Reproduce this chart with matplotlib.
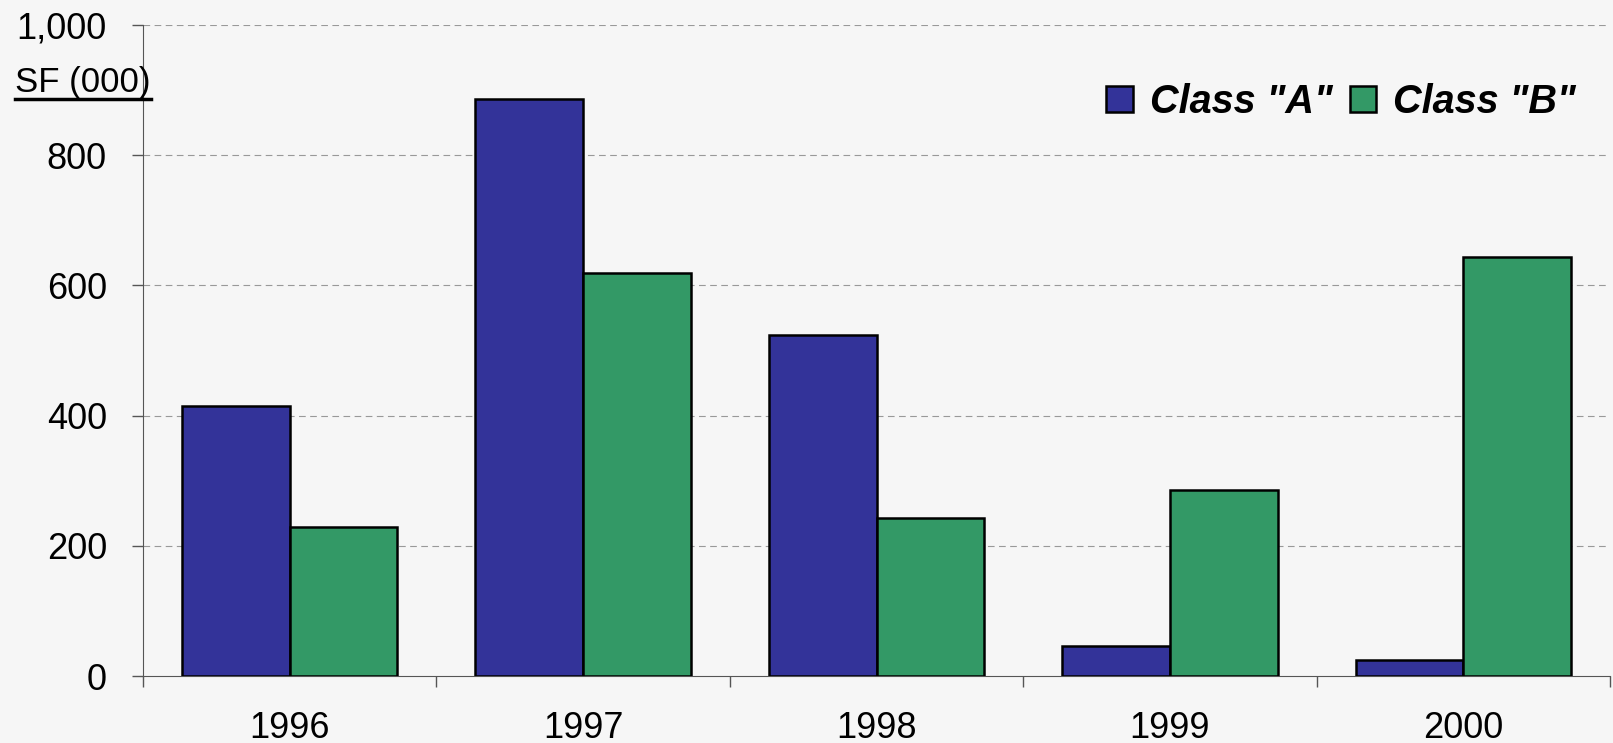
import numpy as np
import matplotlib.pyplot as plt
from matplotlib.ticker import FuncFormatter, FixedLocator
from matplotlib.lines import Line2D

years = ['1996', '1997', '1998', '1999', '2000']
class_a = [415, 886, 524, 46, 25]
class_b = [229, 619, 242, 285, 644]

plt.rcParams['font.family'] = ['Liberation Sans', 'DejaVu Sans']

fig = plt.figure(figsize=(16.13, 7.43), dpi=100)
fig.patch.set_facecolor('#f6f6f6')
ax = fig.add_axes([143 / 1613, 1 - 676 / 743, (1610 - 143) / 1613, (676 - 25) / 743])
ax.set_facecolor('none')

x = np.arange(len(years))
w = 0.367
ax.bar(x - w / 2, class_a, w, color='#333399', edgecolor='black', linewidth=1.8,
       label='Class "A"', zorder=3)
ax.bar(x + w / 2, class_b, w, color='#339966', edgecolor='black', linewidth=1.8,
       label='Class "B"', zorder=3)

ax.set_xlim(-0.5, len(years) - 0.5)
ax.set_ylim(0, 1000)
ax.set_yticks(range(0, 1001, 200))
ax.yaxis.set_major_formatter(FuncFormatter(lambda v, p: f'{int(v):,}'))
ax.xaxis.set_major_locator(FixedLocator(np.arange(len(years) + 1) - 0.5))
ax.xaxis.set_major_formatter(FuncFormatter(lambda v, p: ''))
ax.set_xticks(x, minor=True)
ax.set_xticklabels(years, minor=True)
ax.tick_params(axis='x', which='minor', length=0, labelsize=26, pad=25)
ax.tick_params(axis='x', which='major', length=8, width=1, color='#555555')
ax.tick_params(axis='y', length=8, width=1, color='#555555', labelsize=26, pad=18)

for y in range(200, 1001, 200):
    ax.axhline(y, color='#999999', linestyle=(0, (6, 4)), linewidth=0.8, zorder=1)

for s in ['top', 'right']:
    ax.spines[s].set_visible(False)
ax.spines['left'].set_color('#555555')
ax.spines['bottom'].set_color('#555555')

t = fig.text(15 / 1613, 1 - 92 / 743, 'SF (000)', fontsize=25, ha='left', va='baseline')
fig.canvas.draw()
bb = t.get_window_extent().transformed(fig.transFigure.inverted())
fig.add_artist(Line2D([bb.x0, bb.x1], [1 - 99 / 743] * 2, color='black', linewidth=2.5,
                      transform=fig.transFigure))

leg = fig.legend(loc='center right', bbox_to_anchor=(1576 / 1613, 1 - 102 / 743), ncol=2,
                 frameon=False, borderpad=0, borderaxespad=0,
                 handlelength=0.66, handleheight=0.66, handletextpad=0.43,
                 columnspacing=0.45, prop={'size': 28.5, 'weight': 'bold', 'style': 'italic'})

fig.savefig('out.png', dpi=100, facecolor=fig.get_facecolor())
